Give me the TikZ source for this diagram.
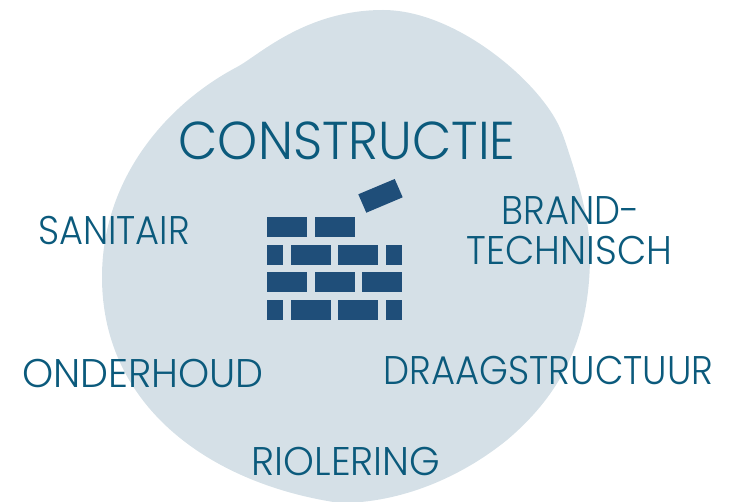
\documentclass[tikz,border=0pt]{standalone}
\usepackage{fontspec}
\setmainfont{Poppins Light}
\usetikzlibrary{positioning}
\definecolor{blobcolor}{HTML}{D5E0E7}
\definecolor{brickcolor}{HTML}{1F4E79}
\definecolor{labelcolor}{HTML}{0B5A7C}
\tikzset{
    label text/.style={text=labelcolor,inner sep=0pt,anchor=base,font=\fontsize{30}{30}\selectfont,transform shape},
    title text/.style={label text,font=\fontsize{40}{40}\selectfont},
    brick/.style={fill=brickcolor}
}
\begin{document}
\begin{tikzpicture}[x=0.75pt,y=-0.75pt]
    \useasboundingbox (0,0) rectangle (742,502);
    \fill [blobcolor] (383,10) .. controls (450,10) and (525,70) .. (553,115)
        .. controls (561,128) and (564,138) .. (567,147)
        .. controls (578,180) and (590,220) .. (590,255)
        .. controls (590,340) and (560,395) .. (507,440)
        .. controls (460,478) and (400,503) .. (340,503)
        .. controls (215,485) and (102,410) .. (102,277)
        .. controls (102,180) and (165,105) .. (237,67)
        .. controls (258,56) and (305,10) .. (383,10) -- cycle;
    % wall
    \foreach \y/\xa/\xb in {217/267/307,217/315/355,
        245/267/283,245/291/331,245/338/378,245/386/402,
        272/267/307,272/315/355,272/362/402,
        300/267/283,300/291/331,300/338/378,300/386/402}
        \fill [brick] (\xa,\y) rectangle (\xb,\y+20);
    \fill [brick] (358.3,194.3) -- (394.7,179) -- (402.7,197.3) -- (366.3,212.7) -- cycle;
    % labels
    \node (constructie) at (347,160) [title text,xscale=0.956] {CONSTRUCTIE};
    \node (sanitair) at (114,245) [label text,xscale=0.92] {SANITAIR};
    \node (brand) at (570.5,225) [label text,xscale=0.92] {BRAND-};
    \node (technisch) at (569.5,265) [label text,xscale=0.95] {TECHNISCH};
    \node (onderhoud) at (143,387) [label text,xscale=0.99] {ONDERHOUD};
    \node (draagstructuur) at (548.5,384) [label text,xscale=0.923] {DRAAGSTRUCTUUR};
    \node (riolering) at (346,475) [label text,xscale=0.98] {RIOLERING};
\end{tikzpicture}
\end{document}
